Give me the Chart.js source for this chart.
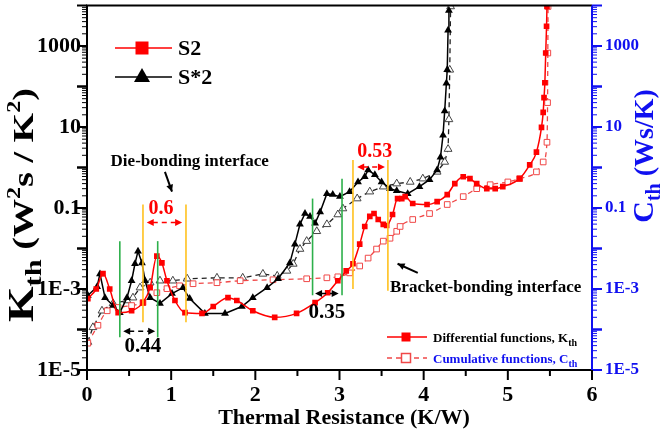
<!DOCTYPE html>
<html lang="en">
<head>
<meta charset="UTF-8">
<title>Structure functions S2 / S*2</title>
<script src="https://cdn.jsdelivr.net/npm/chart.js"></script>
<style>
  html, body { margin: 0; padding: 0; background: #fff; }
  #wrap { width: 666px; height: 436px; }
</style>
</head>
<body>
<div id="wrap"><canvas id="chart"></canvas></div>
<script>
// ---- data (x: K/W, y: Kth / Cth) ----
const s2DiffX = [0.01, 0.11, 0.19, 0.27, 0.37, 0.53, 0.665, 0.75, 0.83, 0.89, 0.95, 1.045, 1.164, 1.366, 1.50, 1.675, 1.78, 1.97, 2.23, 2.49, 2.71, 2.86, 2.98, 3.08, 3.16, 3.24, 3.30, 3.36, 3.41, 3.46, 3.52, 3.56, 3.63, 3.69, 3.74, 3.78, 3.87, 4.04, 4.16, 4.28, 4.37, 4.47, 4.55, 4.63, 4.75, 4.85, 4.94, 5.14, 5.26, 5.34, 5.40, 5.42, 5.43, 5.44, 5.45, 5.46, 5.465];
const s2DiffY = [5.8e-4, 1.0e-3, 2.4e-3, 1.0e-3, 2.6e-4, 2.9e-4, 4.6e-4, 1.08e-3, 6.5e-3, 4.4e-3, 1.6e-3, 5.2e-4, 2.6e-4, 2.5e-4, 3.7e-4, 6.1e-4, 5.2e-4, 2.9e-4, 2.0e-4, 2.5e-4, 4.6e-4, 8.1e-4, 1.6e-3, 2.8e-3, 4.2e-3, 1.28e-2, 3.5e-2, 6.2e-2, 7.3e-2, 5.2e-2, 3.95e-2, 3.7e-2, 6.9e-2, 0.171, 0.171, 0.191, 0.129, 0.122, 0.144, 0.214, 0.40, 0.59, 0.53, 0.40, 0.30, 0.30, 0.336, 0.53, 1.16, 2.4, 9.8, 22.9, 53, 124, 670, 3070, 9460];

const s2CumX = [0.01, 0.13, 0.24, 0.37, 0.53, 0.665, 0.83, 0.95, 1.10, 1.26, 1.544, 1.82, 2.21, 2.61, 2.85, 2.98, 3.12, 3.24, 3.34, 3.44, 3.52, 3.60, 3.68, 3.72, 3.87, 4.07, 4.28, 4.47, 4.63, 4.79, 5.0, 5.14, 5.34, 5.42, 5.465, 5.472, 5.475, 5.478];
const s2CumY = [4.6e-5, 1.27e-4, 2.9e-4, 3.5e-4, 3.9e-4, 4.6e-4, 8.1e-4, 1.02e-3, 1.2e-3, 1.35e-3, 1.43e-3, 1.6e-3, 1.69e-3, 1.79e-3, 1.89e-3, 2.0e-3, 2.5e-3, 3.7e-3, 5.8e-3, 9.7e-3, 1.52e-2, 1.79e-2, 2.66e-2, 3.5e-2, 5.2e-2, 7.3e-2, 0.122, 0.191, 0.30, 0.376, 0.44, 0.53, 0.78, 1.37, 4.2, 40, 670, 9460];

const sStarDiffX = [0.01, 0.12, 0.154, 0.214, 0.31, 0.39, 0.475, 0.53, 0.57, 0.606, 0.653, 0.69, 0.75, 0.867, 1.01, 1.14, 1.22, 1.40, 1.64, 1.84, 1.97, 2.14, 2.27, 2.41, 2.47, 2.53, 2.59, 2.65, 2.71, 2.77, 2.85, 2.92, 3.005, 3.12, 3.22, 3.30, 3.34, 3.42, 3.50, 3.60, 3.68, 3.81, 3.95, 4.07, 4.16, 4.20, 4.23, 4.25, 4.27, 4.28, 4.29, 4.30];
const sStarDiffY = [6.9e-4, 1.14e-3, 2.36e-3, 6.1e-4, 3.9e-4, 2.6e-4, 6.1e-4, 1.6e-3, 4.2e-3, 8.6e-3, 4.4e-3, 1.6e-3, 6.1e-4, 4.4e-4, 7.7e-4, 1.08e-3, 5.8e-4, 2.5e-4, 2.5e-4, 3.7e-4, 6.1e-4, 1.08e-3, 1.79e-3, 4.4e-3, 1.28e-2, 3.95e-2, 7.3e-2, 6.2e-2, 4.2e-2, 8.0e-2, 0.226, 0.214, 0.191, 0.253, 0.44, 0.59, 0.87, 0.66, 0.44, 0.30, 0.268, 0.226, 0.336, 0.50, 0.87, 1.8, 6.3, 25, 120, 258, 2450, 7550];

const sStarCumX = [0.01, 0.07, 0.178, 0.31, 0.475, 0.546, 0.63, 0.75, 0.867, 1.02, 1.19, 1.544, 1.85, 2.09, 2.26, 2.375, 2.45, 2.53, 2.61, 2.73, 2.85, 2.98, 3.04, 3.21, 3.36, 3.52, 3.68, 3.84, 3.99, 4.16, 4.25, 4.29, 4.30, 4.31, 4.32];
const sStarCumY = [4.9e-5, 1.13e-4, 2.9e-4, 4.4e-4, 5.2e-4, 6.1e-4, 1.08e-3, 1.43e-3, 1.6e-3, 1.6e-3, 1.79e-3, 1.89e-3, 1.89e-3, 2.36e-3, 2.11e-3, 2.8e-3, 4.16e-3, 9.7e-3, 1.52e-2, 2.66e-2, 3.95e-2, 6.9e-2, 9.7e-2, 0.171, 0.253, 0.336, 0.40, 0.44, 0.53, 0.78, 1.37, 2.85, 15.4, 258, 9460];

const yTickValues = [1e-5, 1e-3, 0.1, 10, 1000];
const yTickLabels = ['1E-5', '1E-3', '0.1', '10', '1000'];
const xTickLabels = ['0', '1', '2', '3', '4', '5', '6'];

const FONT = "'Liberation Serif', 'Times New Roman', serif";
const RED = '#ff0000', PINK = '#f04848', BLUE = '#1010f0', GREEN = '#2db04b', GOLD = '#ffc11e';

// annotation marks in data units: [x, yLow, yHigh, colour]
const vLines = [
  [0.39, 6.4e-5, 0.0152, GREEN], [0.84, 6.4e-5, 0.0152, GREEN],
  [2.68, 7e-4, 0.171, GREEN], [3.03, 7e-4, 0.53, GREEN],
  [0.665, 1.5e-4, 0.122, GOLD], [1.176, 1.5e-4, 0.122, GOLD],
  [3.16, 1.0e-3, 1.53, GOLD], [3.575, 9e-4, 1.53, GOLD]
];
// double arrows: [x1, x2, y, colour]
const spans = [
  [0.71, 1.13, 0.044, RED], [3.21, 3.54, 1.03, RED],
  [0.43, 0.81, 9e-5, '#000'], [2.71, 2.99, 7.7e-4, '#000']
];
const notes = [
  ['0.6', 0.88, 0.097, RED, 20, 'center'],
  ['0.53', 3.42, 2.4, RED, 20, 'center'],
  ['0.44', 0.665, 3.7e-5, '#000', 21, 'center'],
  ['0.35', 2.85, 2.6e-4, '#000', 21, 'center'],
  ['Die-bonding interface', 1.22, 1.37, '#000', 17, 'center'],
  ['Bracket-bonding interface', 3.60, 1.08e-3, '#000', 17, 'left']
];

function pts(xs, ys) { return xs.map((x, i) => ({ x: x, y: ys[i] })); }

// text made of runs [text, size, baselineShift]; sx stretches along the text
function rich(ctx, parts, cx, cy, angle, color, sx) {
  ctx.save();
  ctx.translate(cx, cy);
  ctx.rotate(angle);
  ctx.scale(sx || 1, 1);
  ctx.fillStyle = color;
  ctx.textAlign = 'left';
  ctx.textBaseline = 'alphabetic';
  let w = 0;
  parts.forEach(p => { ctx.font = 'bold ' + p[1] + 'px ' + FONT; w += ctx.measureText(p[0]).width; });
  let x = -w / 2;
  parts.forEach(p => {
    ctx.font = 'bold ' + p[1] + 'px ' + FONT;
    ctx.fillText(p[0], x, p[2] || 0);
    x += ctx.measureText(p[0]).width;
  });
  ctx.restore();
}

function head(ctx, x, y, dir, color) {
  ctx.fillStyle = color;
  ctx.beginPath();
  ctx.moveTo(x, y);
  ctx.lineTo(x - dir * 7, y - 3.5);
  ctx.lineTo(x - dir * 7, y + 3.5);
  ctx.closePath();
  ctx.fill();
}

function square(ctx, x, y, s, fill, stroke) {
  ctx.beginPath();
  ctx.rect(x - s / 2, y - s / 2, s, s);
  if (fill) { ctx.fillStyle = fill; ctx.fill(); }
  if (stroke) { ctx.strokeStyle = stroke; ctx.lineWidth = 1.5; ctx.stroke(); }
}

const decor = {
  id: 'decor',
  afterDatasetsDraw(chart) {
    const { ctx, scales } = chart;
    const X = v => scales.x.getPixelForValue(v);
    const Y = v => scales.y.getPixelForValue(v);
    ctx.save();
    vLines.forEach(l => {
      ctx.strokeStyle = l[3];
      ctx.lineWidth = 1.6;
      ctx.beginPath();
      ctx.moveTo(X(l[0]), Y(l[1]));
      ctx.lineTo(X(l[0]), Y(l[2]));
      ctx.stroke();
    });
    spans.forEach(s => {
      const x1 = X(s[0]), x2 = X(s[1]), y = Y(s[2]);
      ctx.strokeStyle = s[3];
      ctx.lineWidth = 1.5;
      ctx.setLineDash([5, 4]);
      ctx.beginPath();
      ctx.moveTo(x1 + 6, y);
      ctx.lineTo(x2 - 6, y);
      ctx.stroke();
      ctx.setLineDash([]);
      head(ctx, x1, y, -1, s[3]);
      head(ctx, x2, y, 1, s[3]);
    });
    notes.forEach(n => {
      ctx.font = 'bold ' + n[4] + 'px ' + FONT;
      ctx.fillStyle = n[3];
      ctx.textAlign = n[5];
      ctx.textBaseline = 'middle';
      ctx.fillText(n[0], X(n[1]), Y(n[2]));
    });
    // pointer arrows
    ctx.strokeStyle = '#000';
    ctx.lineWidth = 2;
    let ax1 = X(0.926), ay1 = Y(0.78), ax2 = X(1.01), ay2 = Y(0.253);
    ctx.beginPath(); ctx.moveTo(ax1, ay1); ctx.lineTo(ax2, ay2); ctx.stroke();
    let ang = Math.atan2(ay2 - ay1, ax2 - ax1);
    ctx.save(); ctx.translate(ax2, ay2); ctx.rotate(ang); head(ctx, 0, 0, 1, '#000'); ctx.restore();
    ax1 = X(3.93); ay1 = Y(2.5e-3); ax2 = X(3.69); ay2 = Y(4.2e-3);
    ctx.beginPath(); ctx.moveTo(ax1, ay1); ctx.lineTo(ax2, ay2); ctx.stroke();
    ang = Math.atan2(ay2 - ay1, ax2 - ax1);
    ctx.save(); ctx.translate(ax2, ay2); ctx.rotate(ang); head(ctx, 0, 0, 1, '#000'); ctx.restore();
    ctx.restore();
  },
  afterDraw(chart) {
    const { ctx, chartArea: a, scales } = chart;
    ctx.save();
    // frame
    ctx.lineWidth = 2;
    ctx.strokeStyle = '#000';
    ctx.beginPath();
    ctx.moveTo(a.right, a.top); ctx.lineTo(a.left, a.top); ctx.lineTo(a.left, a.bottom); ctx.lineTo(a.right, a.bottom);
    ctx.stroke();
    ctx.strokeStyle = BLUE;
    ctx.beginPath(); ctx.moveTo(a.right, a.top); ctx.lineTo(a.right, a.bottom); ctx.stroke();
    // log ticks, both sides
    for (let e = -5; e <= 3; e++) {
      for (let k = 1; k <= 10; k++) {
        const v = k * Math.pow(10, e);
        const py = scales.y.getPixelForValue(v);
        const len = (k === 1 || k === 10) ? 10 : 5;
        ctx.lineWidth = len === 10 ? 2 : 1;
        ctx.strokeStyle = '#000';
        ctx.beginPath(); ctx.moveTo(a.left, py); ctx.lineTo(a.left - len, py); ctx.stroke();
        ctx.strokeStyle = BLUE;
        ctx.beginPath(); ctx.moveTo(a.right, py); ctx.lineTo(a.right + len, py); ctx.stroke();
      }
    }
    // x ticks
    ctx.strokeStyle = '#000';
    for (let i = 0; i <= 12; i++) {
      const px = scales.x.getPixelForValue(i / 2);
      ctx.lineWidth = 2;
      ctx.beginPath(); ctx.moveTo(px, a.bottom); ctx.lineTo(px, a.bottom + (i % 2 ? 6 : 10)); ctx.stroke();
    }
    // axis titles
    rich(ctx, [['K', 36], ['th', 24, 8], [' (W', 30], ['2', 19, -13], ['s / K', 30], ['2', 19, -13], [')', 30]], 33, 205, -Math.PI / 2, '#000', 1.27);
    rich(ctx, [['C', 30], ['th', 20, 7], [' (Ws/K)', 28]], 653, 156, -Math.PI / 2, BLUE);
    ctx.font = 'bold 22px ' + FONT;
    ctx.fillStyle = '#000';
    ctx.textAlign = 'center';
    ctx.textBaseline = 'middle';
    ctx.fillText('Thermal Resistance (K/W)', 344, 418);
    // legend, top left
    ctx.lineWidth = 1.5;
    ctx.strokeStyle = RED;
    ctx.beginPath(); ctx.moveTo(115, 48); ctx.lineTo(172, 48); ctx.stroke();
    square(ctx, 142, 48, 13, RED);
    ctx.strokeStyle = '#000';
    ctx.beginPath(); ctx.moveTo(115, 77); ctx.lineTo(172, 77); ctx.stroke();
    ctx.fillStyle = '#000';
    ctx.beginPath(); ctx.moveTo(142, 68); ctx.lineTo(150, 82); ctx.lineTo(134, 82); ctx.closePath(); ctx.fill();
    ctx.font = 'bold 22px ' + FONT;
    ctx.textAlign = 'left';
    ctx.fillText('S2', 178, 49);
    ctx.fillText('S*2', 178, 78);
    // legend, bottom right
    ctx.strokeStyle = RED;
    ctx.lineWidth = 1.5;
    ctx.beginPath(); ctx.moveTo(387, 337); ctx.lineTo(427, 337); ctx.stroke();
    square(ctx, 406, 337, 9, RED);
    ctx.setLineDash([5, 4]);
    ctx.strokeStyle = PINK;
    ctx.beginPath(); ctx.moveTo(387, 358); ctx.lineTo(427, 358); ctx.stroke();
    ctx.setLineDash([]);
    square(ctx, 406, 358, 9, '#fff', PINK);
    ctx.restore();
    ctx.save();
    ctx.textBaseline = 'alphabetic';
    const l1 = [['Differential functions, K', 13], ['th', 10, 4]];
    const l2 = [['Cumulative functions, C', 13], ['th', 10, 4]];
    let w1 = 0; l1.forEach(p => { ctx.font = 'bold ' + p[1] + 'px ' + FONT; w1 += ctx.measureText(p[0]).width; });
    let w2 = 0; l2.forEach(p => { ctx.font = 'bold ' + p[1] + 'px ' + FONT; w2 += ctx.measureText(p[0]).width; });
    rich(ctx, l1, 433 + w1 / 2, 342, 0, '#000');
    rich(ctx, l2, 433 + w2 / 2, 363, 0, BLUE);
    ctx.restore();
  }
};

const tickFont = { family: FONT, weight: 'bold', size: 22 };

function noPadV(s) { s.paddingTop = 0; s.paddingBottom = 0; }

new Chart(document.getElementById('chart'), {
  type: 'scatter',
  data: {
    datasets: [
      {
        label: 'S2 differential', data: pts(s2DiffX, s2DiffY), showLine: true, order: 1,
        borderColor: RED, borderWidth: 1.5, cubicInterpolationMode: 'monotone',
        pointStyle: 'rect', pointRadius: 4, backgroundColor: RED, pointBorderColor: RED, pointBorderWidth: 0
      },
      {
        label: 'S2 cumulative', data: pts(s2CumX, s2CumY), showLine: true, order: 2,
        borderColor: PINK, borderWidth: 1.3, borderDash: [5, 4], cubicInterpolationMode: 'monotone',
        pointStyle: 'rect', pointRadius: 4, backgroundColor: '#fff', pointBorderColor: PINK, pointBorderWidth: 1
      },
      {
        label: 'S*2 differential', data: pts(sStarDiffX, sStarDiffY), showLine: true, order: 1,
        borderColor: '#000', borderWidth: 1.5, tension: 0,
        pointStyle: 'triangle', pointRadius: 4.5, backgroundColor: '#000', pointBorderColor: '#000', pointBorderWidth: 0
      },
      {
        label: 'S*2 cumulative', data: pts(sStarCumX, sStarCumY), showLine: true, order: 3,
        borderColor: '#222', borderWidth: 1.3, borderDash: [5, 4], tension: 0,
        pointStyle: 'triangle', pointRadius: 4.5, backgroundColor: '#fff', pointBorderColor: '#444', pointBorderWidth: 1
      }
    ]
  },
  options: {
    responsive: true,
    maintainAspectRatio: false,
    animation: false,
    layout: { padding: { top: 2, left: 0, right: 0, bottom: 0 } },
    plugins: { legend: { display: false }, tooltip: { enabled: false } },
    scales: {
      x: {
        type: 'linear', position: 'bottom', min: 0, max: 6,
        grid: { display: false, drawTicks: false }, border: { display: false },
        ticks: { stepSize: 1, color: '#000', font: tickFont, padding: 12, callback: (v, i) => xTickLabels[i] },
        afterFit(s) { s.height = 66; s.paddingLeft = 0; s.paddingRight = 0; }
      },
      y: {
        type: 'logarithmic', position: 'left', min: 1e-5, max: 1e4,
        grid: { display: false, drawTicks: false }, border: { display: false },
        afterBuildTicks(s) { s.ticks = yTickValues.map(v => ({ value: v })); },
        ticks: { autoSkip: false, color: '#000', font: tickFont, padding: 6, callback: (v, i) => yTickLabels[i] },
        afterFit(s) { s.width = 87; noPadV(s); }
      },
      y2: {
        type: 'logarithmic', position: 'right', min: 1e-5, max: 1e4,
        grid: { display: false, drawTicks: false }, border: { display: false },
        afterBuildTicks(s) { s.ticks = yTickValues.map(v => ({ value: v })); },
        ticks: { autoSkip: false, color: BLUE, font: { family: FONT, weight: 'bold', size: 17 }, padding: 13, callback: (v, i) => yTickLabels[i] },
        afterFit(s) { s.width = 74; noPadV(s); }
      }
    }
  },
  plugins: [decor]
});
</script>
</body>
</html>
